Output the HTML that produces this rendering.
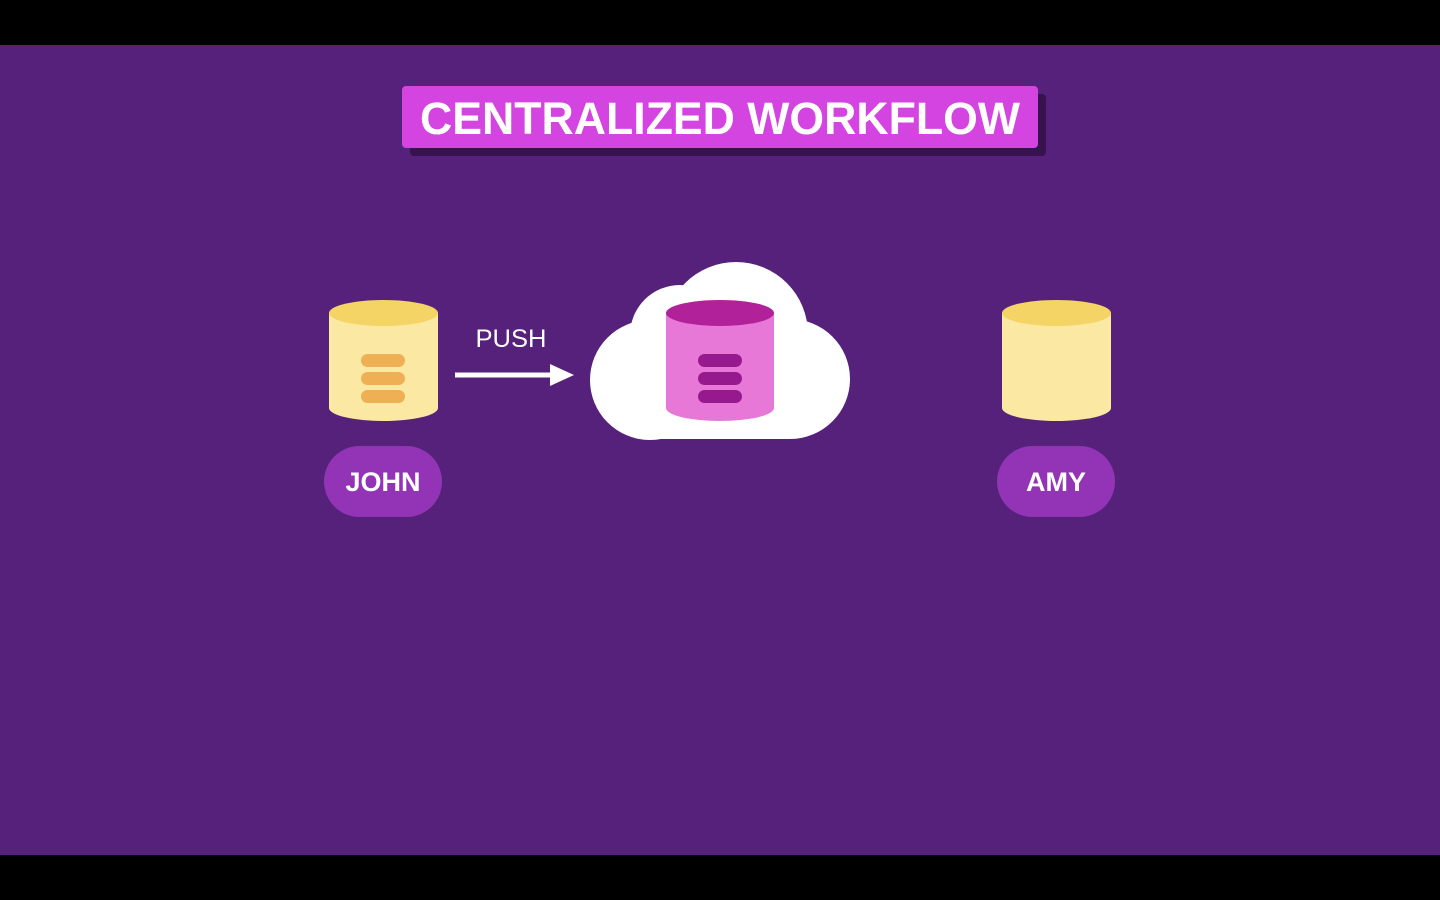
<!DOCTYPE html>
<html><head><style>html,body{margin:0;padding:0;background:#000;}svg{display:block}</style></head>
<body>
<svg width="1440" height="900" viewBox="0 0 1440 900" xmlns="http://www.w3.org/2000/svg" font-family="Liberation Sans, sans-serif">
<rect width="1440" height="900" fill="#000"/>
<rect y="45" width="1440" height="810" fill="#55217A"/>
<!-- title -->
<rect x="410" y="94" width="636" height="62" rx="4" fill="#37124F"/>
<rect x="402" y="86" width="636" height="62" rx="4" fill="#D344E0"/>
<text x="720" y="134" text-anchor="middle" font-size="45" font-weight="bold" fill="#fff" textLength="600" lengthAdjust="spacingAndGlyphs">CENTRALIZED WORKFLOW</text>
<!-- John cylinder -->
<path d="M329 313 L329 408 A54.5 13 0 0 0 438 408 L438 313 Z" fill="#FBE8A3"/>
<ellipse cx="383.5" cy="313" rx="54.5" ry="13" fill="#F3D465"/>
<g fill="#EFB055"><rect x="361" y="354" width="44" height="13" rx="6.5"/><rect x="361" y="372" width="44" height="13" rx="6.5"/><rect x="361" y="390" width="44" height="13" rx="6.5"/></g>
<!-- arrow -->
<text x="511" y="347" text-anchor="middle" font-size="25" fill="#fff" textLength="71" lengthAdjust="spacingAndGlyphs">PUSH</text>
<rect x="455" y="372.5" width="97" height="5" fill="#fff"/>
<polygon points="550,364 574,375 550,386" fill="#fff"/>
<!-- cloud -->
<g fill="#fff">
<circle cx="736" cy="334" r="72"/>
<circle cx="680" cy="335" r="50"/>
<circle cx="650" cy="380" r="60"/>
<circle cx="790" cy="379" r="60"/>
<rect x="650" y="330" width="140" height="109"/>
</g>
<!-- pink cylinder -->
<path d="M666 313 L666 408 A54 13 0 0 0 774 408 L774 313 Z" fill="#E878D8"/>
<ellipse cx="720" cy="313" rx="54" ry="13" fill="#B0219A"/>
<g fill="#961A8E"><rect x="698" y="354" width="44" height="13" rx="6.5"/><rect x="698" y="372" width="44" height="13" rx="6.5"/><rect x="698" y="390" width="44" height="13" rx="6.5"/></g>
<!-- Amy cylinder -->
<path d="M1002 313 L1002 408 A54.5 13 0 0 0 1111 408 L1111 313 Z" fill="#FBE8A3"/>
<ellipse cx="1056.5" cy="313" rx="54.5" ry="13" fill="#F3D465"/>
<!-- pills -->
<rect x="324" y="446" width="118" height="71" rx="35.5" fill="#9234B5"/>
<text x="383" y="491" text-anchor="middle" font-size="27" font-weight="bold" fill="#fff">JOHN</text>
<rect x="997" y="446" width="118" height="71" rx="35.5" fill="#9234B5"/>
<text x="1056" y="491" text-anchor="middle" font-size="27" font-weight="bold" fill="#fff">AMY</text>
</svg>
</body></html>
